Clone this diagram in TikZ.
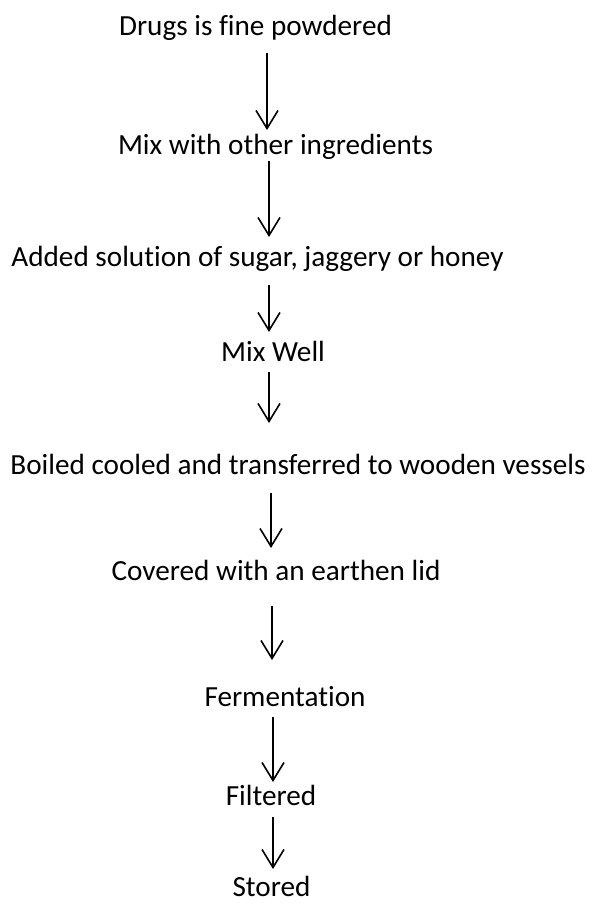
\documentclass[tikz,border=0pt]{standalone}
\usepackage{fontspec}
\setmainfont{Carlito}[Ligatures=NoCommon]
\usetikzlibrary{arrows.meta}

\begin{document}
\begin{tikzpicture}[x=1pt, y=-1pt,
    step text/.style={anchor=base, inner sep=0pt, font=\fontsize{29.2}{35}\selectfont},
    flowarrow/.style={line width=1.6pt, -{Straight Barb[length=18pt, width=22pt, line width=1.6pt]}}]
    % Diagram: preparation steps, top to bottom, joined by plain arrows.
    % Coordinates in pt, y grows downwards:
    %   page 595 x 904, texts centred near x=270 on their baselines
    %   arrows sit at x=267..273 between the texts
    \useasboundingbox (0,0) rectangle (595,904);
    \node[step text] (powder)  at (255.5,36) {Drugs is fine powdered};
    \node[step text] (mixing)  at (275.5,155) {Mix with other ingredients};
    \node[step text] (syrup)   at (257.5,266) {Added solution of sugar, jaggery or honey};
    \node[step text] (mixwell) at (273,361)  {Mix Well};
    \node[step text] (boiled)  at (298,474)  {Boiled cooled and transferred to wooden vessels};
    \node[step text] (covered) at (276,580)  {Covered with an earthen lid};
    \node[step text] (ferment) at (285,706)  {Fermentation};
    \node[step text] (filter)  at (271,805)  {Filtered};
    \node[step text] (stored)  at (271.5,896) {Stored};
    % arrows: number / x / top / tip
    \foreach \n/\x/\a/\b in {1/267/53/130, 2/269/161/237, 3/269/285/332,
                             4/269/372/423, 5/271/493/548, 6/272/606/660,
                             7/273/717/782, 8/273/817/869} {
        \coordinate (top\n) at (\x,\a);
        \coordinate (tip\n) at (\x,\b);
        \draw[flowarrow] (top\n) -- (tip\n);
    }
\end{tikzpicture}
\end{document}
